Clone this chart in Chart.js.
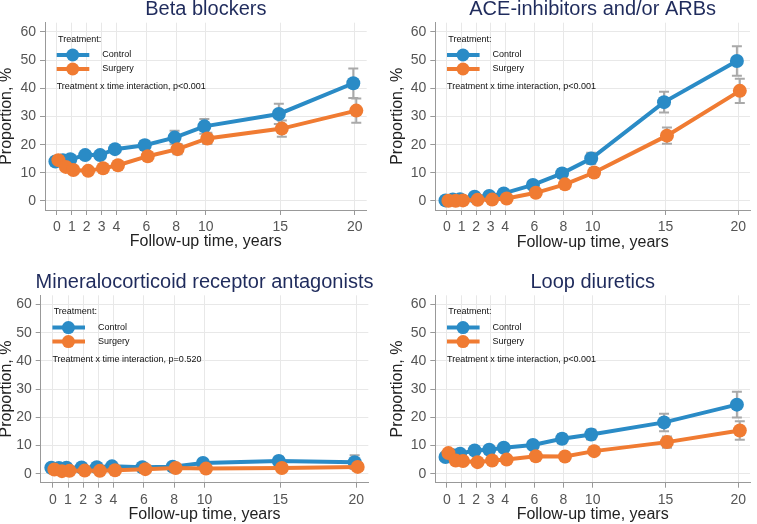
<!DOCTYPE html>
<html>
<head>
<meta charset="utf-8">
<script src="https://cdn.jsdelivr.net/npm/chart.js@4.4.1/dist/chart.umd.min.js"></script>
<style>
body{margin:0;background:#fff;}
#wrap{position:relative;width:757px;height:524px;overflow:hidden;}
canvas{position:absolute;}
</style>
</head>
<body>
<div id="wrap">
<canvas id="c1" width="378" height="262" style="left:0;top:0"></canvas>
<canvas id="c2" width="379" height="262" style="left:378px;top:0"></canvas>
<canvas id="c3" width="378" height="262" style="left:0;top:262px"></canvas>
<canvas id="c4" width="379" height="262" style="left:378px;top:262px"></canvas>
</div>
<script>
// follow-up times (years) and axis ticks
const times = [0, 0.5, 1, 2, 3, 4, 6, 8, 10, 15, 20];
const xTicks = [0, 1, 2, 3, 4, 6, 8, 10, 15, 20];
const yTicks = [0, 10, 20, 30, 40, 50, 60];
const seriesNames = ["Control", "Surgery"];

// Beta blockers
const betaControl = [14.0, 14.5, 14.8, 16.3, 16.3, 18.4, 19.8, 22.5, 26.5, 30.9, 41.8];
const betaControlErr = [0.8, 0.8, 0.9, 1.0, 1.1, 1.2, 1.6, 2.4, 2.6, 3.6, 5.2];
const betaSurgery = [14.5, 12.1, 11.0, 10.7, 11.6, 12.7, 15.9, 18.4, 22.2, 25.7, 32.1];
const betaSurgeryErr = [0.8, 0.8, 0.8, 0.8, 0.9, 1.0, 1.3, 1.8, 2.0, 2.9, 4.3];

// ACE-inhibitors and/or ARBs
const aceControl = [0.2, 0.5, 0.6, 1.5, 1.8, 2.7, 5.7, 9.8, 15.1, 35.1, 49.7];
const aceControlErr = [0.2, 0.3, 0.3, 0.5, 0.5, 0.7, 1.0, 1.5, 2.0, 3.7, 5.2];
const aceSurgery = [0.1, 0.1, 0.2, 0.4, 0.5, 0.9, 2.9, 5.9, 10.1, 23.2, 39.1];
const aceSurgeryErr = [0.1, 0.1, 0.2, 0.3, 0.3, 0.4, 0.8, 1.2, 1.6, 2.9, 4.3];

// Mineralocorticoid receptor antagonists
const mraControl = [2.1, 2.0, 2.1, 2.2, 2.3, 2.6, 2.3, 2.5, 3.8, 4.5, 4.1];
const mraControlErr = [0.6, 0.6, 0.6, 0.6, 0.6, 0.7, 0.7, 0.8, 1.0, 1.5, 2.4];
const mraSurgery = [1.5, 0.9, 1.0, 1.1, 1.0, 1.2, 1.6, 2.0, 1.8, 2.0, 2.4];
const mraSurgeryErr = [0.5, 0.4, 0.4, 0.4, 0.4, 0.5, 0.6, 0.7, 0.7, 1.0, 1.4];

// Loop diuretics
const loopControl = [5.9, 6.5, 7.1, 8.2, 8.5, 9.2, 10.2, 12.4, 13.9, 18.2, 24.5];
const loopControlErr = [0.9, 0.9, 1.0, 1.0, 1.0, 1.1, 1.3, 1.6, 1.8, 3.1, 4.6];
const loopSurgery = [7.3, 4.7, 4.5, 4.1, 4.7, 5.0, 6.2, 6.1, 8.0, 11.2, 15.3];
const loopSurgeryErr = [1.0, 0.8, 0.8, 0.8, 0.8, 0.9, 1.0, 1.1, 1.3, 2.0, 3.3];

const dodge = 0.1;
const blue = "#2a8bc6";
const orange = "#f07b32";
const FONT = "'Liberation Sans', Arial, Helvetica, sans-serif";

function makePanel(id, title, ctrl, ctrlErr, surg, surgErr, pText, g) {
  const ctrlX = times.map(t => t - dodge);
  const surgX = times.map(t => t + dodge);
  const errs = [
    {xs: ctrlX, vals: ctrl, err: ctrlErr},
    {xs: surgX, vals: surg, err: surgErr}
  ];
  const plugin = {
    id: "panel" + id,
    beforeDatasetsDraw(chart) {
      const ctx = chart.ctx, xs = chart.scales.x, ys = chart.scales.y;
      ctx.save();
      ctx.strokeStyle = "#a9a9a9";
      ctx.lineWidth = 2;
      errs.forEach(e => {
        e.vals.forEach((v, i) => {
          const px = xs.getPixelForValue(e.xs[i]);
          const lo = ys.getPixelForValue(v - e.err[i]);
          const hi = ys.getPixelForValue(v + e.err[i]);
          ctx.beginPath();
          ctx.moveTo(px, lo); ctx.lineTo(px, hi);
          ctx.moveTo(px - 5, lo); ctx.lineTo(px + 5, lo);
          ctx.moveTo(px - 5, hi); ctx.lineTo(px + 5, hi);
          ctx.stroke();
        });
      });
      ctx.restore();
    },
    afterDatasetsDraw(chart) {
      const ctx = chart.ctx, a = chart.chartArea;
      const l = a.left, t = a.top;
      ctx.save();
      ctx.fillStyle = "#111";
      ctx.font = "9px " + FONT;
      ctx.textBaseline = "alphabetic";
      ctx.fillText("Treatment:", l + 13, t + 19);
      [blue, orange].forEach((c, k) => {
        const y = t + 32.3 + k * 14;
        ctx.strokeStyle = c;
        ctx.lineWidth = 4;
        ctx.beginPath();
        ctx.moveTo(l + 11.7, y); ctx.lineTo(l + 44.3, y);
        ctx.stroke();
        ctx.fillStyle = c;
        ctx.beginPath();
        ctx.arc(l + 27.7, y, 6.5, 0, Math.PI * 2);
        ctx.fill();
        ctx.fillStyle = "#111";
        ctx.textBaseline = "middle";
        ctx.fillText(seriesNames[k], l + 57.3, y);
      });
      ctx.textBaseline = "alphabetic";
      ctx.fillText(pText, l + 11.7, t + 66.3);
      // panel title
      ctx.fillStyle = "#1f2b5c";
      ctx.font = "20px " + FONT;
      ctx.textAlign = "center";
      ctx.fillText(title, (a.left + a.right) / 2, a.top - 7.5);
      ctx.restore();
    }
  };

  return new Chart(document.getElementById(id), {
    type: "line",
    data: {
      datasets: [
        {
          label: seriesNames[0],
          data: ctrlX.map((x, i) => ({x: x, y: ctrl[i]})),
          borderColor: blue, backgroundColor: blue,
          borderWidth: 4, pointRadius: 7, pointBorderWidth: 0,
          pointBackgroundColor: blue, order: 1
        },
        {
          label: seriesNames[1],
          data: surgX.map((x, i) => ({x: x, y: surg[i]})),
          borderColor: orange, backgroundColor: orange,
          borderWidth: 4, pointRadius: 7, pointBorderWidth: 0,
          pointBackgroundColor: orange, order: 0
        }
      ]
    },
    options: {
      responsive: false,
      animation: false,
      layout: {padding: {top: g.top, right: g.right, bottom: 0, left: 0}},
      plugins: {legend: {display: false}, tooltip: {enabled: false}, title: {display: false}},
      scales: {
        x: {
          type: "linear", min: -0.8, max: 20.8,
          afterBuildTicks: s => { s.ticks = xTicks.map(v => ({value: v})); },
          afterFit: s => { s.height = g.xH; },
          grid: {color: "#e8e8e8", tickColor: "#999", tickLength: 5},
          border: {color: "#999", width: 1},
          ticks: {autoSkip: false, maxRotation: 0, padding: 4, color: "#555", font: {family: FONT, size: 14}},
          title: {display: true, text: "Follow-up time, years", color: "#222",
                  font: {family: FONT, size: 16, lineHeight: 1}, padding: {top: 0, bottom: g.xTitle - 8}}
        },
        y: {
          type: "linear", min: -3.2, max: 63.3,
          afterBuildTicks: s => { s.ticks = yTicks.map(v => ({value: v})); },
          afterFit: s => { s.width = g.yW; },
          grid: {color: "#e8e8e8", tickColor: "#999", tickLength: 5},
          border: {color: "#999", width: 1},
          ticks: {padding: 4, color: "#555", font: {family: FONT, size: 14}},
          title: {display: true, text: "Proportion, %", color: "#222",
                  font: {family: FONT, size: 16, lineHeight: 1}, padding: {top: g.yTitle - 8, bottom: 0}}
        }
      }
    },
    plugins: [plugin]
  });
}

makePanel("c1", "Beta blockers", betaControl, betaControlErr, betaSurgery, betaSurgeryErr,
  "Treatment x time interaction, p<0.001", {top: 22.7, right: 11.3, yW: 45, xH: 52, yTitle: 6.2, xTitle: 20.8});
makePanel("c2", "ACE-inhibitors and/or ARBs", aceControl, aceControlErr, aceSurgery, aceSurgeryErr,
  "Treatment x time interaction, p<0.001", {top: 22.7, right: 0, yW: 57.3, xH: 52, yTitle: 19.5, xTitle: 19.2});
makePanel("c3", "Mineralocorticoid receptor antagonists", mraControl, mraControlErr, mraSurgery, mraSurgeryErr,
  "Treatment x time interaction, p=0.520", {top: 33.3, right: 9.7, yW: 40.7, xH: 41.3, yTitle: 6.2, xTitle: 9.2});
makePanel("c4", "Loop diuretics", loopControl, loopControlErr, loopSurgery, loopSurgeryErr,
  "Treatment x time interaction, p<0.001", {top: 33.3, right: 0, yW: 57.3, xH: 41.3, yTitle: 19.5, xTitle: 9.2});
</script>
</body>
</html>
